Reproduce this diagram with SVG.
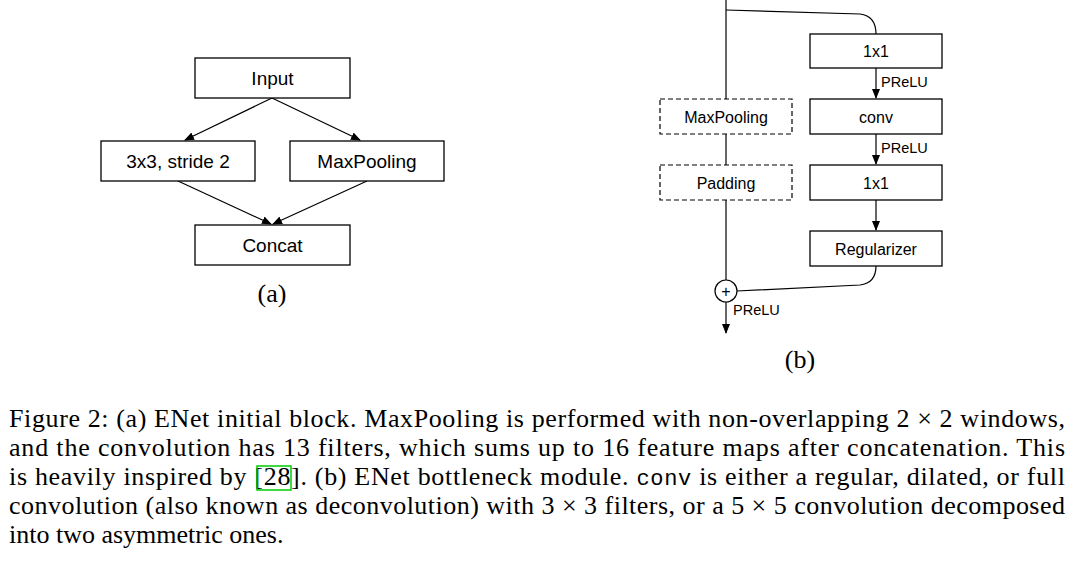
<svg xmlns="http://www.w3.org/2000/svg" width="1076" height="582" viewBox="0 0 1076 582">
<style>
.b{fill:#fff;stroke:#000;stroke-width:1.3}
.d{fill:#fff;stroke:#000;stroke-width:1.2;stroke-dasharray:5,3}
.t{font-family:"Liberation Sans",Arial,sans-serif;font-size:19px;text-anchor:middle}
.s{font-family:"Liberation Sans",Arial,sans-serif;font-size:16px;text-anchor:middle}
.p{font-family:"Liberation Sans",Arial,sans-serif;font-size:14.5px}
.c{font-family:"Liberation Serif","Times New Roman",serif;font-size:26px}
.l{fill:none;stroke:#000;stroke-width:1.2}
</style>
<defs><marker id="a" markerWidth="10" markerHeight="10" refX="9" refY="5" orient="auto" markerUnits="userSpaceOnUse"><path d="M0,1 L10,5 L0,9 Z" fill="#000"/></marker></defs>
<g id="connectors">
<line class="l" x1="272" y1="98" x2="185" y2="140" marker-end="url(#a)"/>
<line class="l" x1="272" y1="98" x2="360" y2="140" marker-end="url(#a)"/>
<line class="l" x1="178" y1="181" x2="271" y2="224" marker-end="url(#a)"/>
<line class="l" x1="367" y1="181" x2="273" y2="224" marker-end="url(#a)"/>
<line class="l" x1="726" y1="0" x2="726" y2="280"/>
<path class="l" d="M726,10 L860,14 Q876,16 876,34"/>
<line class="l" x1="876" y1="68" x2="876" y2="98" marker-end="url(#a)"/>
<line class="l" x1="876" y1="134" x2="876" y2="164" marker-end="url(#a)"/>
<line class="l" x1="876" y1="200" x2="876" y2="230" marker-end="url(#a)"/>
<path class="l" d="M876,266 Q876,283 860,285 L737,291"/>
<line class="l" x1="726" y1="302" x2="726" y2="333" marker-end="url(#a)"/>
</g>
<g id="input"><rect class="b" x="195" y="58" width="155" height="40"/><text class="t" x="272.5" y="85">Input</text></g>
<g id="conv3"><rect class="b" x="101" y="141" width="154" height="40"/><text class="t" x="178" y="168">3x3, stride 2</text></g>
<g id="maxpool"><rect class="b" x="290" y="141" width="154" height="40"/><text class="t" x="367" y="168">MaxPooling</text></g>
<g id="concat"><rect class="b" x="195" y="225" width="155" height="40"/><text class="t" x="272.5" y="252">Concat</text></g>
<text class="c" x="272" y="302" text-anchor="middle" font-size="22">(a)</text>
<g id="b1"><rect class="b" x="810" y="34" width="132" height="34"/><text class="s" x="876" y="57">1x1</text></g>
<g id="b2"><rect class="b" x="810" y="99" width="132" height="35"/><text class="s" x="876" y="123">conv</text></g>
<g id="b3"><rect class="b" x="810" y="165" width="132" height="35"/><text class="s" x="876" y="189">1x1</text></g>
<g id="b4"><rect class="b" x="810" y="231" width="132" height="35"/><text class="s" x="876" y="255">Regularizer</text></g>
<g id="mp"><rect class="d" x="660" y="99" width="132" height="35"/><text class="s" x="726" y="123">MaxPooling</text></g>
<g id="pad"><rect class="d" x="660" y="165" width="132" height="35"/><text class="s" x="726" y="189">Padding</text></g>
<g id="plus"><circle cx="726" cy="291" r="11" fill="#fff" stroke="#000" stroke-width="1.2"/><text class="s" x="726" y="297">+</text></g>
<text class="p" x="881" y="87">PReLU</text>
<text class="p" x="881" y="153">PReLU</text>
<text class="p" x="733" y="315">PReLU</text>
<text class="c" x="800" y="368" text-anchor="middle" font-size="22">(b)</text>
<text class="c" x="9" y="427" textLength="1056" lengthAdjust="spacing">Figure 2: (a) ENet initial block. MaxPooling is performed with non-overlapping 2 × 2 windows,</text>
<text class="c" x="9" y="456" textLength="1056" lengthAdjust="spacing">and the convolution has 13 filters, which sums up to 16 feature maps after concatenation. This</text>
<text class="c" x="9" y="485" textLength="1056" lengthAdjust="spacing">is heavily inspired by [28]. (b) ENet bottleneck module. <tspan font-family="'Liberation Mono', monospace" font-size="22">conv</tspan> is either a regular, dilated, or full</text>
<rect x="257" y="466" width="34" height="24" fill="none" stroke="#0c0" stroke-width="1.5"/>
<text class="c" x="9" y="514" textLength="1056" lengthAdjust="spacing">convolution (also known as deconvolution) with 3 × 3 filters, or a 5 × 5 convolution decomposed</text>
<text class="c" x="9" y="543">into two asymmetric ones.</text>
</svg>
